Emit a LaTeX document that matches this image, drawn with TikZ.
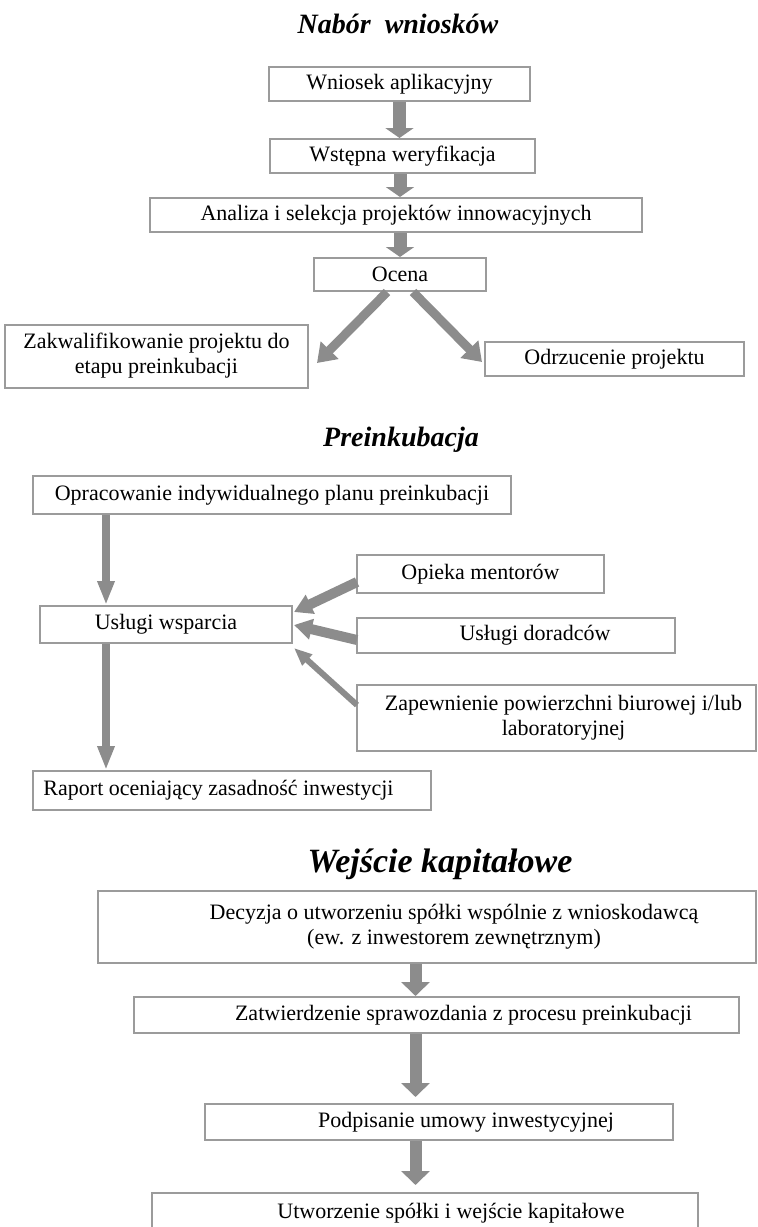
\documentclass[tikz,border=0pt]{standalone}
\usepackage{fontspec}
\setmainfont{Liberation Serif}
\usepackage{tikz}
\usetikzlibrary{arrows.meta, positioning, calc}
\definecolor{framegray}{RGB}{155,155,155}
\definecolor{arrowgray}{RGB}{140,140,140}
\tikzset{
  stage/.style      = {rectangle, draw=framegray, line width=1pt, fill=white,
                       align=center, inner sep=2pt,
                       font=\fontsize{11}{12.5}\selectfont},
  heading/.style    = {font=\fontsize{14}{16}\selectfont\bfseries\itshape},
  bigheading/.style = {font=\fontsize{17}{20}\selectfont\bfseries\itshape},
  fatarrow/.style   = {-{Triangle[width=14pt, length=5pt]}, line width=6.5pt,
                       draw=arrowgray},
  forkarrow/.style  = {-{Triangle[width=12pt, length=9pt]}, line width=4.5pt,
                       draw=arrowgray},
  widearrow/.style  = {-{Triangle[width=14pt, length=7pt]}, line width=6pt,
                       draw=arrowgray},
  slimarrow/.style  = {-{Triangle[width=8pt, length=12pt]}, line width=4pt,
                       draw=arrowgray},
  sidearrow/.style  = {-{Triangle[width=10pt, length=9pt]}, line width=5pt,
                       draw=arrowgray},
  thinside/.style   = {-{Triangle[width=7pt, length=9pt]}, line width=3pt,
                       draw=arrowgray},
}

\begin{document}
\begin{tikzpicture}[x=0.5pt, y=-0.5pt]
  \useasboundingbox (0,0) rectangle (757,1227);

  %─── Nabór wniosków ────────────────────────────────────────────────────────
  \node[heading] at (398,24) (title1) {Nabór\ \ wniosków};
  \node[stage, minimum width=130.5pt, minimum height=17pt] at (399.5,84)  (wniosek) {Wniosek aplikacyjny};
  \node[stage, minimum width=132.5pt, minimum height=17pt] at (402.5,156) (wstepna) {Wstępna weryfikacja};
  \node[stage, minimum width=246pt,   minimum height=17pt] at (396,215)   (analiza) {Analiza i selekcja projektów innowacyjnych};
  \node[stage, minimum width=86pt,  minimum height=16.5pt] at (400,274.5) (ocena)   {Ocena};
  \node[stage, minimum width=151.5pt, minimum height=31.5pt] at (156.5,356) (kwalif) {Zakwalifikowanie projektu do\\etapu preinkubacji};
  \node[stage, minimum width=129.5pt, minimum height=17pt] at (614.5,359) (odrzut)  {Odrzucenie projektu};

  % main chain
  \draw[fatarrow] (wniosek.south) -- (wniosek.south |- wstepna.north);
  \draw[fatarrow] (ocena.north |- wstepna.south) -- (ocena.north |- analiza.north);
  \draw[fatarrow] (ocena.north |- analiza.south) -- (ocena.north);

  % decision split
  \draw[forkarrow] ($(ocena.south)+(-13,0)$) -- ($(kwalif.east)+(8,7)$);
  \draw[forkarrow] ($(ocena.south)+(13,0)$)  -- ($(odrzut.west)+(-2,3)$);

  %─── Preinkubacja ──────────────────────────────────────────────────────────
  \node[heading] at (401,440) (title2) {Preinkubacja};
  \node[stage, minimum width=239pt,   minimum height=19pt]   at (272,495)   (plan)     {Opracowanie indywidualnego planu preinkubacji};
  \node[stage, minimum width=126pt,   minimum height=18.5pt] at (166,624.5) (wsparcie) {Usługi wsparcia};
  \node[stage, minimum width=123.5pt, minimum height=19pt]   at (480.5,574) (mentorzy) {Opieka mentorów};
  \node[stage, minimum width=159pt,   minimum height=17.5pt] at (516,635.5) (doradcy)  {\hspace*{19pt}Usługi doradców};
  \node[stage, minimum width=199.5pt, minimum height=33pt]   at (556.5,718) (biuro)    {\hspace*{7pt}Zapewnienie powierzchni biurowej i/lub\\\hspace*{7pt}laboratoryjnej};
  \node[stage, minimum width=199pt,   minimum height=19.5pt] at (232,790.5) (raport)   {Raport oceniający zasadność inwestycji\hspace{13.5pt}};

  \coordinate (lane) at (106,0);
  \draw[slimarrow] (plan.south -| lane) -- (wsparcie.north -| lane);
  \draw[slimarrow] (wsparcie.south -| lane) -- (raport.north -| lane);

  % services feeding in
  \draw[sidearrow] ($(mentorzy.west)+(1,8)$)  -- ($(wsparcie.north east)+(1,7)$);
  \draw[sidearrow] ($(doradcy.west)+(1,4.5)$) -- ($(wsparcie.east)+(1,0.5)$);
  \draw[thinside]  ($(biuro.west)+(1,-13)$)   -- ($(wsparcie.south east)+(1,4)$);

  %─── Wejście kapitałowe ────────────────────────────────────────────────────
  \node[bigheading] at (440,864) (title3) {Wejście kapitałowe};
  \node[stage, minimum width=329pt,   minimum height=36pt] at (427,927)    (decyzja) {\hspace*{27pt}Decyzja o utworzeniu spółki wspólnie z wnioskodawcą\\\hspace*{27pt}(ew. z inwestorem zewnętrznym)};
  \node[stage, minimum width=302.5pt, minimum height=18pt] at (436.5,1015) (zatw)    {\hspace*{27pt}Zatwierdzenie sprawozdania z procesu preinkubacji};
  \node[stage, minimum width=234pt,   minimum height=18pt] at (439,1122)   (podpis)  {\hspace*{27pt}Podpisanie umowy inwestycyjnej};
  \node[stage, minimum width=273pt,   minimum height=20pt] at (425,1213)   (spolka)  {\hspace*{26pt}Utworzenie spółki i wejście kapitałowe};

  \coordinate (spine) at (415.5,0);
  \draw[widearrow] (decyzja.south -| spine) -- (zatw.north -| spine);
  \draw[widearrow] (zatw.south -| spine)    -- ($(podpis.north -| spine)+(0,-6)$);
  \draw[widearrow] (podpis.south -| spine)  -- ($(spolka.north -| spine)+(0,-7)$);

\end{tikzpicture}
\end{document}
